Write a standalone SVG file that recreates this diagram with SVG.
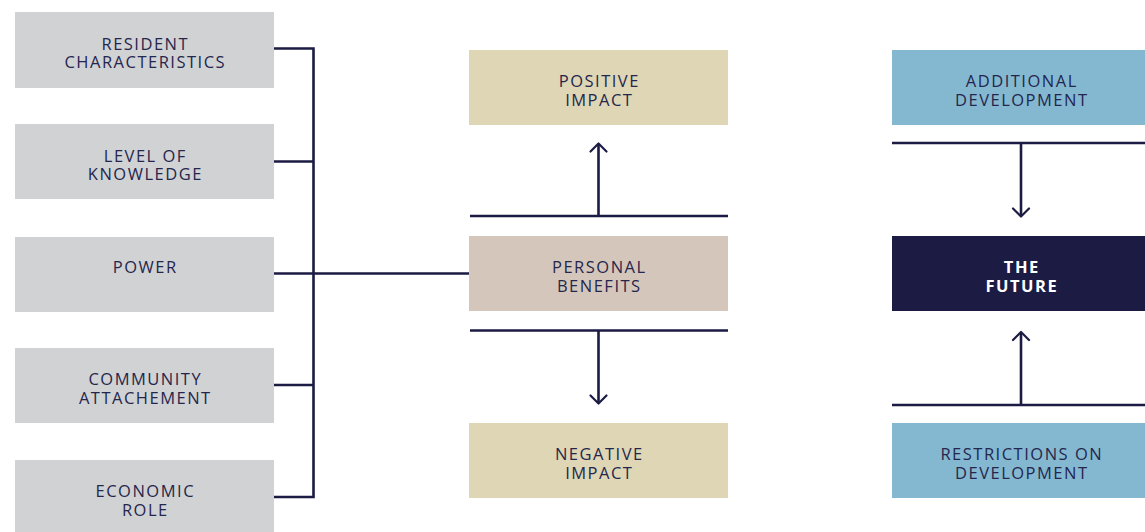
<svg xmlns="http://www.w3.org/2000/svg" width="1145" height="532" viewBox="0 0 1145 532">
<style>
.t{font-family:"Open Sans","Noto Sans",sans-serif;font-size:16.5px;letter-spacing:1.5px;fill:#25264d;text-anchor:middle}
.w{fill:#ffffff;font-weight:bold}
.ln{stroke:#1b1b43;stroke-width:2.6;fill:none}
.ah{stroke:#1b1b43;stroke-width:2.2;fill:none;stroke-linecap:round;stroke-linejoin:round}
</style>
<rect width="1145" height="532" fill="#ffffff"/>
<g id="n-resident"><rect x="15" y="12" width="259" height="76" fill="#d1d2d4"/><text class="t" x="145.3" y="49.5">RESIDENT</text><text class="t" x="145.3" y="68">CHARACTERISTICS</text></g>
<g id="n-knowledge"><rect x="15" y="124" width="259" height="75" fill="#d1d2d4"/><text class="t" x="145.3" y="161.5">LEVEL OF</text><text class="t" x="145.3" y="180">KNOWLEDGE</text></g>
<g id="n-power"><rect x="15" y="237" width="259" height="75" fill="#d1d2d4"/><text class="t" x="145.3" y="273">POWER</text></g>
<g id="n-community"><rect x="15" y="348" width="259" height="75" fill="#d1d2d4"/><text class="t" x="145.3" y="385">COMMUNITY</text><text class="t" x="145.3" y="403.5">ATTACHEMENT</text></g>
<g id="n-economic"><rect x="15" y="460" width="259" height="72" fill="#d1d2d4"/><text class="t" x="145.3" y="497">ECONOMIC</text><text class="t" x="145.3" y="515.5">ROLE</text></g>
<g id="n-positive"><rect x="469" y="50" width="259" height="75" fill="#ded6b5"/><text class="t" x="599.3" y="87">POSITIVE</text><text class="t" x="599.3" y="105.5">IMPACT</text></g>
<g id="n-personal"><rect x="469" y="236" width="259" height="75" fill="#d5c6bb"/><text class="t" x="599.3" y="273">PERSONAL</text><text class="t" x="599.3" y="291.5">BENEFITS</text></g>
<g id="n-negative"><rect x="469" y="423" width="259" height="75" fill="#ded6b5"/><text class="t" x="599.3" y="460">NEGATIVE</text><text class="t" x="599.3" y="478.5">IMPACT</text></g>
<g id="n-additional"><rect x="892" y="50" width="253" height="75" fill="#84b8d1"/><text class="t" x="1021.8" y="87">ADDITIONAL</text><text class="t" x="1021.8" y="105.5">DEVELOPMENT</text></g>
<g id="n-future"><rect x="892" y="236" width="253" height="75" fill="#1b1b43"/><text class="t w" x="1021.8" y="273">THE</text><text class="t w" x="1021.8" y="291.5">FUTURE</text></g>
<g id="n-restrictions"><rect x="892" y="423" width="253" height="75" fill="#84b8d1"/><text class="t" x="1021.8" y="460">RESTRICTIONS ON</text><text class="t" x="1021.8" y="478.5">DEVELOPMENT</text></g>
<g id="connectors">
<path class="ln" d="M274 48.5H313.5V497H274M274 161.5H313.5M274 273.5H469M274 385H313.5"/>
<path class="ln" d="M470 216H728M598.5 216V144"/>
<path class="ah" d="M590.5 151.5L598.5 143.5L606.5 151.5"/>
<path class="ln" d="M470 330.5H728M598.5 330.5V403"/>
<path class="ah" d="M590.5 395.5L598.5 403.5L606.5 395.5"/>
<path class="ln" d="M892 143H1145M1021 143V216"/>
<path class="ah" d="M1013 208.5L1021 216.5L1029 208.5"/>
<path class="ln" d="M892 405H1145M1021 405V333"/>
<path class="ah" d="M1013 340L1021 332L1029 340"/>
</g>
</svg>
